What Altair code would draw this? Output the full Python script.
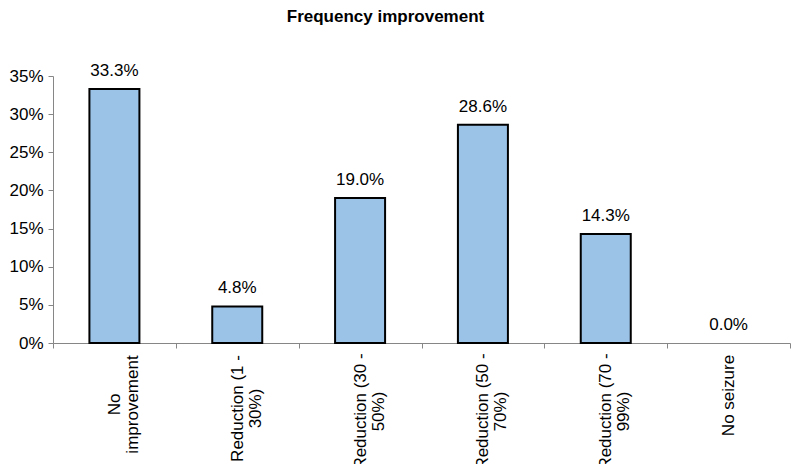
import json
import altair as alt
import pandas as pd

# ---- data ----
categories = [
    "No\nimprovement",
    "Reduction (1 -\n30%)",
    "Reduction (30 -\n50%)",
    "Reduction (50 -\n70%)",
    "Reduction (70 -\n99%)",
    "No seizure",
]
shares = [0.333, 0.048, 0.190, 0.286, 0.143, 0.000]
y_ticks = [0.0, 0.05, 0.10, 0.15, 0.20, 0.25, 0.30, 0.35]

# per-label padding (style) so each wrapped label block starts right under the axis
label_pad = [56, 60, 63, 63, 63, 47]

df = pd.DataFrame({"category": categories, "share": shares})

FONT = "Liberation Sans, Arial, Helvetica, sans-serif"
GREY = "#868686"

pad_expr = json.dumps(label_pad) + "[indexof(" + json.dumps(categories) + ", datum.value)]"

x_enc = alt.X(
    "category:N",
    sort=categories,
    scale=alt.Scale(domain=categories, paddingInner=0, paddingOuter=0),
    axis=alt.Axis(
        title=None,
        labelAngle=270,
        labelAlign="center",
        labelBaseline="middle",
        labelLineHeight=18,
        labelExpr="split(datum.label, '\\n')",
        labelPadding=alt.expr(pad_expr),
        tickBand="extent",
        tickSize=5,
        labelLimit=400,
    ),
)
y_enc = alt.Y(
    "share:Q",
    scale=alt.Scale(domain=[0, 0.35], nice=False),
    axis=alt.Axis(
        title=None,
        values=y_ticks,
        format=".0%",
        grid=False,
        tickSize=5,
        labelPadding=5,
    ),
)

base = alt.Chart(df).encode(x=x_enc, y=y_enc)

bars = base.transform_filter("datum.share > 0").mark_bar(
    size=50, fill="#9BC3E8", stroke="black", strokeWidth=2
)

labels = base.mark_text(
    baseline="alphabetic", dy=-13, fontSize=17, font=FONT, color="black"
).encode(text=alt.Text("share:Q", format=".1%"))

chart = (
    alt.layer(bars, labels)
    .properties(
        width=737,
        height=267,
        autosize=alt.AutoSizeParams(type="none"),
        padding={"left": 45, "top": 68, "right": 1, "bottom": 121},
        title=alt.TitleParams(
            text="Frequency improvement",
            fontSize=17,
            fontWeight="bold",
            font=FONT,
            color="black",
            anchor="middle",
            frame="group",
            baseline="alphabetic",
            offset=23,
            dx=-36,
        ),
    )
    .configure_view(stroke="transparent")
    .configure_axis(
        domainColor=GREY,
        tickColor=GREY,
        domainWidth=1,
        tickWidth=1,
        labelColor="black",
        labelFont=FONT,
        labelFontSize=17,
    )
)

chart.save("out.html", embed_options={"renderer": "svg", "actions": False})
